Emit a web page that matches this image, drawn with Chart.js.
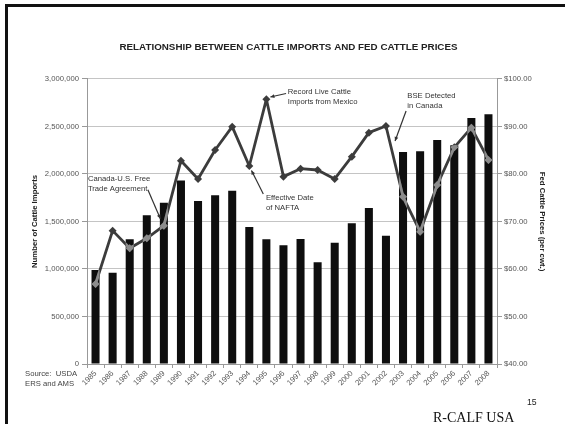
<!DOCTYPE html>
<html>
<head>
<meta charset="utf-8">
<script src="https://cdn.jsdelivr.net/npm/chart.js@4.4.0/dist/chart.umd.min.js"></script>
<style>
  html, body { margin: 0; padding: 0; background: #fff; }
  #wrap { position: relative; width: 565px; height: 424px; overflow: hidden; }
  #frame { position: absolute; left: 5px; top: 4px; right: -10px; bottom: -10px;
           border-left: 3px solid #111; border-top: 3px solid #111; }
  canvas { position: absolute; left: 0; top: 0; }
  .note { position: absolute; font-family: "Liberation Sans", Arial, sans-serif; color: #444; white-space: nowrap; }
</style>
</head>
<body>
<div id="wrap">
  <div id="frame"></div>
  <canvas id="chart" width="565" height="424"></canvas>
  <div class="note" style="left:25px;top:369px;font-size:7.7px;line-height:10px;">Source:&nbsp; USDA<br>ERS and AMS</div>
  <div class="note" style="left:527px;top:397px;font-size:8.7px;line-height:10px;color:#222;">15</div>
  <div class="note" style="left:433px;top:411px;font-family:'Liberation Serif','Times New Roman',serif;font-size:14px;line-height:14px;color:#111;">R-CALF USA</div>
</div>
<script>
// Annual data, 1985-2008
const years = ['1985','1986','1987','1988','1989','1990','1991','1992','1993','1994','1995','1996',
               '1997','1998','1999','2000','2001','2002','2003','2004','2005','2006','2007','2008'];

// Number of live cattle imported per year
const cattleImports = [990000, 961000, 1313000, 1565000, 1698000, 1930000, 1716000, 1775000,
                       1824000, 1442000, 1313000, 1249000, 1316000, 1070000, 1277000, 1481000,
                       1642000, 1351000, 2232000, 2239000, 2358000, 2302000, 2589000, 2628000];

// Fed cattle prices, dollars per cwt.
const fedCattlePrices = [56.84, 68.07, 64.35, 66.46, 69.12, 82.80, 78.95, 85.05, 89.96, 81.68,
                         95.72, 79.44, 81.12, 80.84, 78.95, 83.65, 88.70, 90.10, 75.20, 67.86,
                         77.68, 85.60, 89.75, 82.95];

// Left and right axis ranges
const importTicks = { min: 0, max: 3000000, step: 500000 };
const priceTicks = { min: 40, max: 100, step: 10 };

// Event callouts, anchored to a year on the price line
const callouts = [
  { year: '1989', lines: ['Canada-U.S. Free', 'Trade Agreement'] },
  { year: '1994', lines: ['Effective Date', 'of NAFTA'] },
  { year: '1995', lines: ['Record Live Cattle', 'Imports from Mexico'] },
  { year: '2002', lines: ['BSE Detected', 'in Canada'] }
];

const FONT = '"Liberation Sans", Arial, sans-serif';
const LINE_DARK = '#3c3c3c';
const LINE_ON_BAR = '#8c8c8c';

// Placement of each callout's text and leader arrow, relative to its point
const calloutLayout = {
  '1989': { text: [-76, -46.5], from: [-16, -36], to: [-3.5, -7] },
  '1994': { text: [16.7, 32.3], from: [14, 28], to: [2.2, 4.5] },
  '1995': { text: [21.4, -7], from: [19.7, -5.8], to: [4, -2.3] },
  '2002': { text: [21.4, -30], from: [20.1, -15], to: [9.1, 15] }
};

function diamond(ctx, x, y, r) {
  ctx.beginPath();
  ctx.moveTo(x, y - r);
  ctx.lineTo(x + r, y);
  ctx.lineTo(x, y + r);
  ctx.lineTo(x - r, y);
  ctx.closePath();
  ctx.fill();
}

// Where the price line crosses a bar, repaint it in a lighter grey so it stays visible
const lineOverBars = {
  id: 'lineOverBars',
  afterDatasetsDraw(chart) {
    const ctx = chart.ctx;
    const bars = chart.getDatasetMeta(0).data;
    const pts = chart.getDatasetMeta(1).data;
    ctx.save();
    ctx.beginPath();
    bars.forEach(b => {
      const p = b.getProps(['x', 'y', 'width', 'base'], true);
      ctx.rect(p.x - p.width / 2, p.y, p.width, p.base - p.y);
    });
    ctx.clip();
    ctx.strokeStyle = LINE_ON_BAR;
    ctx.fillStyle = LINE_ON_BAR;
    ctx.lineWidth = 2.8;
    ctx.lineJoin = 'round';
    ctx.beginPath();
    pts.forEach((p, i) => { if (i === 0) ctx.moveTo(p.x, p.y); else ctx.lineTo(p.x, p.y); });
    ctx.stroke();
    pts.forEach(p => diamond(ctx, p.x, p.y, 4));
    ctx.restore();
  }
};

// Text callouts with leader arrows
const calloutPlugin = {
  id: 'callouts',
  afterDatasetsDraw(chart) {
    const ctx = chart.ctx;
    const meta = chart.getDatasetMeta(1);
    ctx.save();
    ctx.font = '7.7px ' + FONT;
    ctx.fillStyle = '#333';
    ctx.strokeStyle = '#333';
    ctx.textAlign = 'left';
    ctx.textBaseline = 'middle';
    callouts.forEach(c => {
      const p = meta.data[years.indexOf(c.year)];
      const lay = calloutLayout[c.year];
      c.lines.forEach((t, i) => ctx.fillText(t, p.x + lay.text[0], p.y + lay.text[1] + i * 9.8));
      const x1 = p.x + lay.from[0], y1 = p.y + lay.from[1];
      const x2 = p.x + lay.to[0], y2 = p.y + lay.to[1];
      ctx.lineWidth = 1.2;
      ctx.beginPath();
      ctx.moveTo(x1, y1);
      ctx.lineTo(x2, y2);
      ctx.stroke();
      const a = Math.atan2(y2 - y1, x2 - x1), h = 4.5;
      ctx.beginPath();
      ctx.moveTo(x2, y2);
      ctx.lineTo(x2 - h * Math.cos(a - 0.45), y2 - h * Math.sin(a - 0.45));
      ctx.lineTo(x2 - h * Math.cos(a + 0.45), y2 - h * Math.sin(a + 0.45));
      ctx.closePath();
      ctx.fill();
    });
    ctx.restore();
  }
};

const tickFont = { family: FONT, size: 7.7 };
const axisTitleFont = { family: FONT, size: 7.75, weight: 'bold' };

new Chart(document.getElementById('chart'), {
  data: {
    labels: years,
    datasets: [
      {
        type: 'bar',
        label: 'Number of Cattle Imports',
        data: cattleImports,
        yAxisID: 'y',
        backgroundColor: '#0e0e0e',
        barPercentage: 0.47,
        categoryPercentage: 1,
        order: 2
      },
      {
        type: 'line',
        label: 'Fed Cattle Prices',
        data: fedCattlePrices,
        yAxisID: 'y1',
        borderColor: LINE_DARK,
        borderWidth: 2.8,
        borderJoinStyle: 'round',
        tension: 0,
        pointStyle: 'rectRot',
        pointRadius: 4,
        pointBackgroundColor: LINE_DARK,
        pointBorderColor: LINE_DARK,
        pointBorderWidth: 0,
        order: 1
      }
    ]
  },
  options: {
    responsive: false,
    animation: false,
    events: [],
    layout: { padding: { left: 30, right: 18, top: 0, bottom: 0 } },
    plugins: {
      legend: { display: false },
      tooltip: { enabled: false },
      title: {
        display: true,
        text: 'RELATIONSHIP BETWEEN CATTLE IMPORTS AND FED CATTLE PRICES',
        color: '#222',
        font: { family: FONT, size: 9.8, weight: 'bold', lineHeight: 1.2 },
        padding: { top: 41.5, bottom: 25.7 }
      }
    },
    scales: {
      x: {
        grid: { offset: true, drawOnChartArea: false, tickLength: 4, color: '#999' },
        border: { color: '#999' },
        ticks: { minRotation: 45, maxRotation: 45, autoSkip: false, padding: 1, color: '#555', font: tickFont },
        afterFit(s) { s.height = 60; }
      },
      y: {
        position: 'left',
        min: importTicks.min,
        max: importTicks.max,
        grid: { color: '#c4c4c4', tickColor: '#999', tickLength: 5 },
        border: { color: '#999' },
        ticks: {
          stepSize: importTicks.step,
          padding: 3,
          color: '#555',
          font: tickFont,
          callback: v => v.toLocaleString('en-US')
        },
        title: { display: true, text: 'Number of Cattle Imports', color: '#222', font: axisTitleFont, padding: 0 },
        afterFit(s) { s.width = 57; }
      },
      y1: {
        position: 'right',
        min: priceTicks.min,
        max: priceTicks.max,
        grid: { drawOnChartArea: false, color: '#999', tickLength: 5 },
        border: { color: '#999' },
        ticks: {
          stepSize: priceTicks.step,
          padding: 2,
          color: '#555',
          font: tickFont,
          callback: v => '$' + v.toFixed(2)
        },
        title: { display: true, text: 'Fed Cattle Prices (per cwt.)', color: '#222', font: axisTitleFont, padding: 0 },
        afterFit(s) { s.width = 50; }
      }
    }
  },
  plugins: [lineOverBars, calloutPlugin]
});
</script>
</body>
</html>
